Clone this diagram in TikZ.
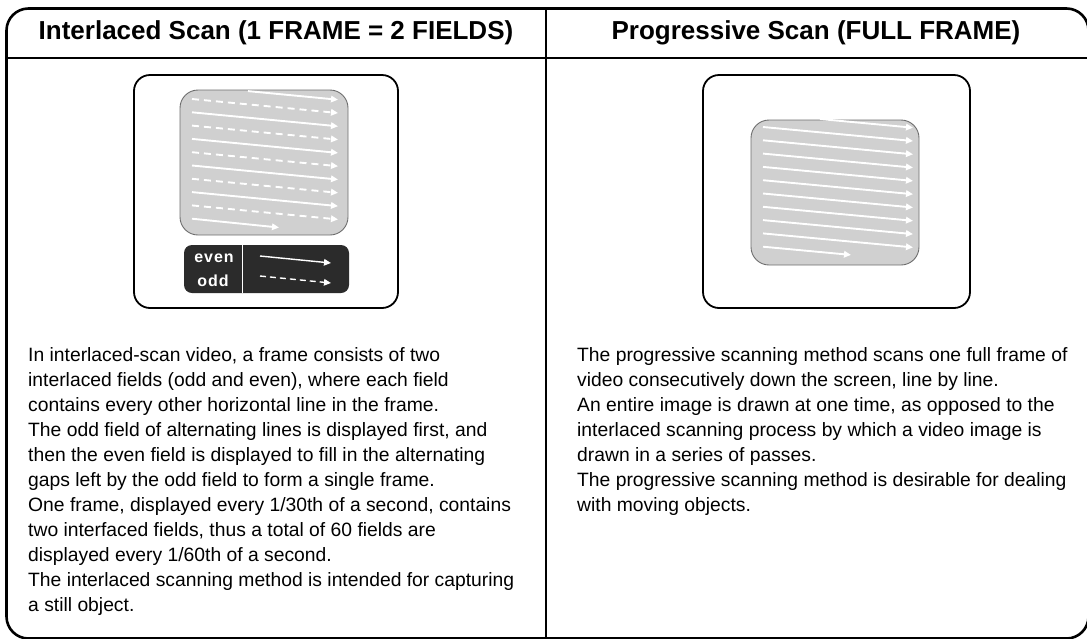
\documentclass[tikz,border=0pt]{standalone}
\usepackage{fontspec}
\setmainfont{Liberation Sans}
\usetikzlibrary{arrows.meta,positioning}
\definecolor{screengray}{HTML}{D0D0D0}
\definecolor{screenedge}{HTML}{6E6E6E}
\definecolor{legendbg}{HTML}{2B2B2B}

\begin{document}
\begin{tikzpicture}[x=1pt, y=-1pt, thin,
  frame/.style={line width=2.6pt},
  title/.style={font=\fontsize{26}{30}\selectfont\bfseries},
  body/.style={font=\fontsize{19.3}{25}\selectfont, align=left, anchor=north west, inner sep=0pt},
  bezel/.style={draw, line width=1.8pt, rounded corners=16pt, minimum width=264pt, minimum height=233pt, inner sep=0pt},
  screen/.style={draw=screenedge, fill=screengray, line width=0.9pt, rounded corners=18pt, minimum width=168pt, minimum height=145pt, inner sep=0pt},
  evenline/.style={white, line width=1.9pt, -{Triangle[length=7pt,width=6.5pt]}},
  oddline/.style={evenline, dash pattern=on 7pt off 5pt},
  legtext/.style={text=white, font=\fontsize{16}{16}\selectfont\bfseries\addfontfeature{LetterSpace=6}},
  ]

\useasboundingbox (0,0) rectangle (1087,638);
\clip (0,0) rectangle (1087,638);

% frame
\draw[frame, rounded corners=22pt] (6.5,8.5) rectangle (1088.5,638.5);
\draw[frame] (6.5,58) -- (1088.5,58);
\draw[frame] (546,8.5) -- (546,638.5);

\node[title] (title-i) at (276,33) {Interlaced Scan (1 FRAME = 2 FIELDS)};
\node[title] (title-p) at (816,33) {Progressive Scan (FULL FRAME)};

% interlaced
\node[bezel] (tv-i) at (266,191.5) {};
\node[screen] (scr-i) at (264,162.5) {};
\draw[evenline] (248,91.1) -- (338,99.7);
\foreach \k in {0,2,...,8}
  \draw[oddline] (192,99+13.3*\k) -- (338,113+13.3*\k);
\foreach \k in {1,3,...,7}
  \draw[evenline] (192,99+13.3*\k) -- (338,113+13.3*\k);
\draw[evenline] (192,218.7) -- (279,227.5);

\node[fill=legendbg, rounded corners=8pt, minimum width=165pt, minimum height=48pt, inner sep=0pt] (leg-i) at (266.5,269) {};
\draw[white, line width=0.8pt] (242,245) -- (242,293);
\node[legtext] (leg-even) at (214,258) {even};
\node[legtext] (leg-odd) at (213,281) {odd};
\draw[evenline, line width=1.4pt] (260,256) -- (331,263);
\draw[oddline, line width=1.4pt, dash pattern=on 6pt off 4pt] (260,276) -- (331,283);

\node[body] (text-i) at (28,347) {In interlaced-scan video, a frame consists of two\\
interlaced fields (odd and even), where each field\\
contains every other horizontal line in the frame.\\
The odd field of alternating lines is displayed first, and\\
then the even field is displayed to fill in the alternating\\
gaps left by the odd field to form a single frame.\\
One frame, displayed every 1/30th of a second, contains\\
two interfaced fields, thus a total of 60 fields are\\
displayed every 1/60th of a second.\\
The interlaced scanning method is intended for capturing\\
a still object.};

% progressive
\node[bezel, minimum width=267pt] (tv-p) at (836.5,191.5) {};
\node[screen] (scr-p) at (835,192.5) {};
\draw[evenline] (820,119) -- (913,127.7);
\foreach \k in {0,...,8}
  \draw[evenline] (763,127+13.3*\k) -- (913,141+13.3*\k);
\draw[evenline] (763,246.7) -- (851,254.9);

\node[body] (text-p) at (577,347) {The progressive scanning method scans one full frame of\\
video consecutively down the screen, line by line.\\
An entire image is drawn at one time, as opposed to the\\
interlaced scanning process by which a video image is\\
drawn in a series of passes.\\
The progressive scanning method is desirable for dealing\\
with moving objects.};

\end{tikzpicture}
\end{document}
